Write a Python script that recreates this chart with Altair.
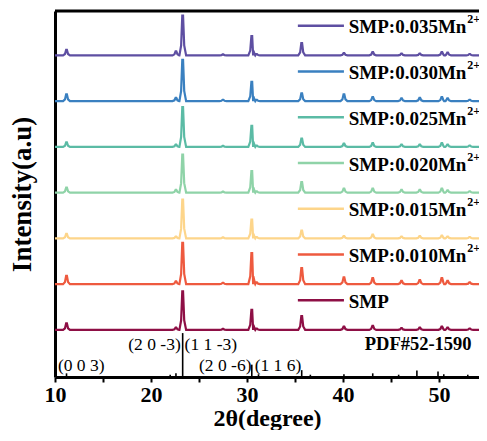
import altair as alt
import pandas as pd

# ---- data ----
series = ["SMP", "SMP:0.010Mn", "SMP:0.015Mn", "SMP:0.020Mn",
          "SMP:0.025Mn", "SMP:0.030Mn", "SMP:0.035Mn"]
colors = ["#8E0F45", "#EE5A3F", "#FDD58A", "#8FD3A8",
          "#5BBBA5", "#3A80C0", "#5E4FA2"]
peak_pos = [11.2, 22.6, 23.3, 27.5, 30.5, 31.0, 35.7, 40.1, 43.1, 46.1, 48.0, 50.3, 50.9, 53.2]
heights = {
    "SMP":         [0.14, 0.05, 0.84, 0.02, 0.44, 0.03, 0.30, 0.07, 0.09, 0.04, 0.05, 0.07, 0.05, 0.03],
    "SMP:0.010Mn": [0.18, 0.06, 0.90, 0.03, 0.68, 0.04, 0.35, 0.15, 0.13, 0.07, 0.09, 0.13, 0.07, 0.04],
    "SMP:0.015Mn": [0.10, 0.04, 0.85, 0.02, 0.41, 0.03, 0.17, 0.05, 0.08, 0.04, 0.05, 0.06, 0.04, 0.03],
    "SMP:0.020Mn": [0.11, 0.06, 0.83, 0.02, 0.47, 0.03, 0.23, 0.09, 0.09, 0.06, 0.06, 0.09, 0.05, 0.03],
    "SMP:0.025Mn": [0.10, 0.05, 0.87, 0.02, 0.46, 0.03, 0.18, 0.07, 0.08, 0.05, 0.05, 0.08, 0.05, 0.03],
    "SMP:0.030Mn": [0.15, 0.07, 0.90, 0.03, 0.42, 0.03, 0.17, 0.15, 0.09, 0.06, 0.07, 0.09, 0.06, 0.03],
    "SMP:0.035Mn": [0.12, 0.09, 0.87, 0.02, 0.42, 0.03, 0.27, 0.05, 0.07, 0.04, 0.04, 0.07, 0.06, 0.03],
}
pdf_pos = [11.2, 22.0, 22.6, 23.3, 30.5, 31.2, 35.7, 36.6, 40.1, 43.1, 45.8, 47.7, 49.9, 50.5, 53.0]
pdf_h = [0.08, 0.05, 0.08, 0.96, 0.27, 0.06, 0.15, 0.05, 0.06, 0.08, 0.05, 0.14, 0.12, 0.06, 0.05]
hkl_text = ["(0 0 3)", "(2 0 -3)", "(1 1 -3)", "(2 0 -6)", "(1 1 6)"]
hkl_x = [10.3, 23.1, 23.5, 25.0, 30.8]
hkl_y = [0.24, 0.70, 0.70, 0.24, 0.24]
hkl_align = ["left", "right", "left", "left", "left"]

FONT = "Liberation Serif"
X0, X1 = 10, 54.17
W, H = 424, 366

# ---- build tables ----
rows = []
for k, s in enumerate(series):
    off = k + 1 + 0.03
    pts = [(X0, 0.0), (X1, 0.0)]
    for p, h in zip(peak_pos, heights[s]):
        pts += [(p - 0.36, 0.0), (p - 0.16, 0.25 * h), (p - 0.04, h),
                (p + 0.04, h), (p + 0.16, 0.25 * h), (p + 0.36, 0.0)]
    pts.sort()
    for i, (x, y) in enumerate(pts):
        rows.append({"series": s, "x": x, "y": y + off, "o": i})
lines_df = pd.DataFrame(rows)

pdf_df = pd.DataFrame({"x": pdf_pos, "y": [0] * len(pdf_pos), "y2": pdf_h})

leg_df = pd.DataFrame({
    "series": series,
    "label": series,
    "sup": ["" if s == "SMP" else "2+" for s in series],
    "y": [k + 1 + 0.64 for k in range(len(series))],
    "yl": [k + 1 + 0.68 for k in range(len(series))],
    "x": [40.6] * len(series),
    "xs": [52.95] * len(series),
    "xa": [35.3] * len(series),
    "xb": [40.1] * len(series),
})

hkl_df = pd.DataFrame({"t": hkl_text, "x": hkl_x, "y": hkl_y, "a": hkl_align})

xs = alt.Scale(domain=[X0, X1], nice=False, zero=False)
ys = alt.Scale(domain=[0, 8], nice=False, zero=False)
cs = alt.Scale(domain=series, range=colors)

xaxis = alt.Axis(
    title="2θ(degree)", values=[10, 15, 20, 25, 30, 35, 40, 45, 50],
    labelExpr="datum.value % 10 == 0 ? datum.label : ''",
    labelFlush=False, labelOverlap=False,
    grid=False, domainColor="black", domainWidth=3, tickColor="black",
    tickWidth=2, tickSize=5, labelFont=FONT, labelFontSize=22,
    labelFontWeight="bold", labelColor="black", labelPadding=2,
    titleFont=FONT, titleFontSize=24, titleFontWeight="bold",
    titleColor="black", titlePadding=1,
)
yaxis = alt.Axis(
    title="Intensity(a.u)", labels=False, ticks=False, grid=False,
    domainColor="black", domainWidth=3, titleFont=FONT, titleFontSize=27,
    titleFontWeight="bold", titleColor="black", titlePadding=19,
)

lines = alt.Chart(lines_df).mark_line(strokeWidth=2.2, clip=True).encode(
    x=alt.X("x:Q", scale=xs, axis=xaxis),
    y=alt.Y("y:Q", scale=ys, axis=yaxis),
    color=alt.Color("series:N", scale=cs, legend=None),
    detail="series:N",
    order="o:Q",
)

pdf = alt.Chart(pdf_df).mark_rule(color="black", strokeWidth=1.6).encode(
    x="x:Q", y="y:Q", y2="y2:Q"
)

leg_lines = alt.Chart(leg_df).mark_rule(strokeWidth=2.5).encode(
    x="xa:Q", x2="xb:Q", y="yl:Q",
    color=alt.Color("series:N", scale=cs, legend=None),
)
leg_text = alt.Chart(leg_df).mark_text(
    align="left", baseline="middle", font=FONT, fontSize=19,
    fontWeight="bold", color="black"
).encode(x="x:Q", y="y:Q", text="label:N")
leg_sup = alt.Chart(leg_df).mark_text(
    align="left", baseline="middle", font=FONT, fontSize=12,
    fontWeight="bold", color="black", dy=-8
).encode(x="xs:Q", y="y:Q", text="sup:N")

hkl_l = alt.Chart(hkl_df).transform_filter("datum.a == 'left'").mark_text(
    align="left", baseline="middle", font=FONT, fontSize=17.5, color="black"
).encode(x="x:Q", y="y:Q", text="t:N")
hkl_r = alt.Chart(hkl_df).transform_filter("datum.a == 'right'").mark_text(
    align="right", baseline="middle", font=FONT, fontSize=17.5, color="black"
).encode(x="x:Q", y="y:Q", text="t:N")

pdf_label = alt.Chart(pd.DataFrame({"t": ["PDF#52-1590"], "x": [53.4], "y": [0.72]})).mark_text(
    align="right", baseline="middle", font=FONT, fontSize=18.5,
    fontWeight="bold", color="black"
).encode(x="x:Q", y="y:Q", text="t:N")

top_border = alt.Chart(pd.DataFrame({"a": [0]})).mark_rule(
    color="black", strokeWidth=3
).encode(x=alt.value(0), x2=alt.value(W), y=alt.value(0))

chart = alt.layer(
    lines, pdf, leg_lines, leg_text, leg_sup, hkl_l, hkl_r, pdf_label, top_border
).properties(
    width=W, height=H,
    autosize=alt.AutoSizeParams(type="none"),
    padding={"left": 47, "top": 3, "right": 0, "bottom": 53},
).configure_view(stroke=None)

chart.save("out.html", embed_options={"renderer": "svg", "actions": False})
